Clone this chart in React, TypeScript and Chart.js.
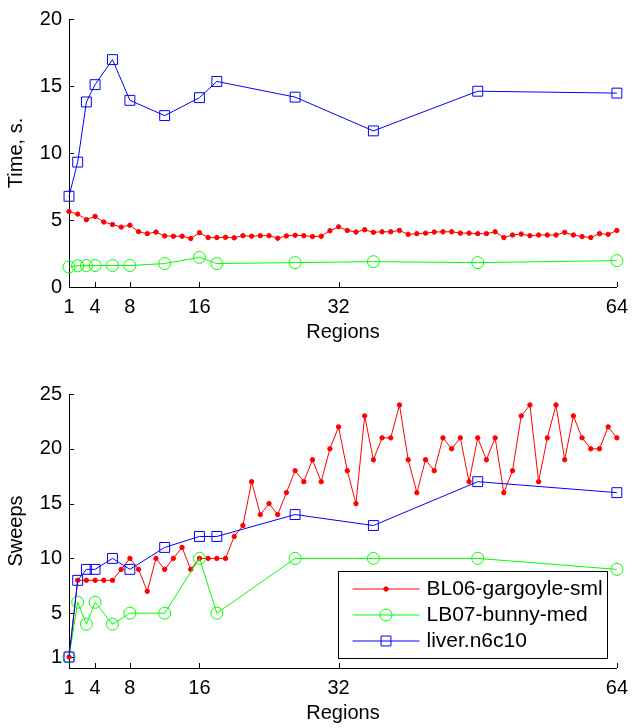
import React, { useEffect, useRef } from 'react';
import { Chart, registerables } from 'chart.js';

Chart.register(...registerables);

const FONT = '"Liberation Sans", Arial, Helvetica, sans-serif';

// ---- data ----
const regionsAll = [
  1, 2, 3, 4, 5, 6, 7, 8, 9, 10, 11, 12, 13, 14, 15, 16,
  17, 18, 19, 20, 21, 22, 23, 24, 25, 26, 27, 28, 29, 30, 31, 32,
  33, 34, 35, 36, 37, 38, 39, 40, 41, 42, 43, 44, 45, 46, 47, 48,
  49, 50, 51, 52, 53, 54, 55, 56, 57, 58, 59, 60, 61, 62, 63, 64,
];
const regionsSub = [1, 2, 3, 4, 6, 8, 12, 16, 18, 27, 36, 48, 64];
const xTickValues = [1, 4, 8, 16, 32, 64];
const timeYTicks = [0, 5, 10, 15, 20];
const sweepsYTicks = [1, 5, 10, 15, 20, 25];
const seriesLabels = ['BL06-gargoyle-sml', 'LB07-bunny-med', 'liver.n6c10'];

const gargoyleTime = [
  5.63, 5.44, 5.02, 5.27, 4.85, 4.66, 4.47, 4.61, 4.13, 3.98, 4.10, 3.81, 3.79, 3.79, 3.62, 4.05,
  3.69, 3.69, 3.71, 3.67, 3.83, 3.79, 3.83, 3.83, 3.64, 3.81, 3.86, 3.83, 3.76, 3.79, 4.20, 4.49,
  4.22, 4.10, 4.27, 4.08, 4.12, 4.12, 4.22, 3.93, 3.98, 4.02, 4.10, 4.12, 4.12, 4.02, 4.02, 3.98,
  3.98, 4.12, 3.69, 3.88, 3.95, 3.83, 3.88, 3.88, 3.88, 4.08, 3.88, 3.76, 3.69, 3.98, 3.93, 4.22,
];
const bunnyTime = [1.50, 1.58, 1.60, 1.60, 1.60, 1.60, 1.75, 2.21, 1.75, 1.82, 1.89, 1.82, 1.97];
const liverTime = [6.77, 9.32, 13.81, 15.10, 16.97, 13.93, 12.79, 14.13, 15.34, 14.17, 11.65, 14.61, 14.47];

const gargoyleSweeps = [
  1, 8, 8, 8, 8, 8, 9, 10, 9, 7, 10, 9, 10, 11, 9, 10,
  10, 10, 10, 12, 13, 17, 14, 15, 14, 16, 18, 17, 19, 17, 20, 22,
  18, 15, 23, 19, 21, 21, 24, 19, 16, 19, 18, 21, 20, 21, 17, 21,
  19, 21, 16, 18, 23, 24, 17, 21, 24, 19, 23, 21, 20, 20, 22, 21,
];
const bunnySweeps = [1, 6, 4, 6, 4, 5, 5, 10, 5, 10, 10, 10, 9];
const liverSweeps = [1, 8, 9, 9, 10, 9, 11, 12, 12, 14, 13, 17, 16];

const RED = '#ff0000';
const GREEN = '#00ff00';
const BLUE = '#0000ff';

// ---- plugins ----
const inwardTicks = {
  id: 'inwardTicks',
  beforeDatasetsDraw(chart: any) {
    const ctx = chart.ctx;
    const xs = chart.scales.x;
    const ys = chart.scales.y;
    const a = chart.chartArea;
    const len = 5;
    ctx.save();
    ctx.strokeStyle = '#000';
    ctx.lineWidth = 1;
    ctx.beginPath();
    xs.ticks.forEach((t: any) => {
      const px = Math.round(xs.getPixelForValue(t.value)) + 0.5;
      ctx.moveTo(px, a.bottom);
      ctx.lineTo(px, a.bottom - len);
    });
    ys.ticks.forEach((t: any) => {
      const py = Math.round(ys.getPixelForValue(t.value)) + 0.5;
      ctx.moveTo(a.left, py);
      ctx.lineTo(a.left + len, py);
    });
    ctx.stroke();
    ctx.restore();
  },
};

function makeBoxLegend(show: boolean) {
  return {
    id: 'boxLegend',
    afterDraw(chart: any) {
      if (!show) return;
      const ctx = chart.ctx;
      const a = chart.chartArea;
      const ds = chart.data.datasets;
      ctx.save();
      ctx.font = `21px ${FONT}`;
      const textW = Math.max(...ds.map((d: any) => ctx.measureText(d.label).width));
      const padL = 14, lineLen = 67, gap = 7, padR = 5, rowH = 26, padV = 17.5;
      const w = Math.round(padL + lineLen + gap + textW + padR);
      const h = Math.round(padV * 2 + rowH * (ds.length - 1));
      const right = Math.round(a.right - 10) + 0.5;
      const bottom = Math.round(a.bottom - 10) + 0.5;
      const left = right - w;
      const top = bottom - h;
      ctx.fillStyle = '#fff';
      ctx.fillRect(left, top, w, h);
      ctx.strokeStyle = '#000';
      ctx.lineWidth = 1;
      ctx.strokeRect(left, top, w, h);
      ds.forEach((d: any, i: number) => {
        const cy = Math.round(top + padV + i * rowH);
        const x0 = left + padL;
        const x1 = x0 + lineLen;
        ctx.strokeStyle = d.borderColor;
        ctx.lineWidth = d.borderWidth;
        ctx.beginPath();
        ctx.moveTo(x0, cy);
        ctx.lineTo(x1, cy);
        ctx.stroke();
        const cx = (x0 + x1) / 2;
        const r = d.pointRadius;
        ctx.beginPath();
        if (d.pointStyle === 'rect') {
          const s = r * Math.SQRT1_2;
          ctx.rect(cx - s, cy - s, 2 * s, 2 * s);
        } else {
          ctx.arc(cx, cy, r, 0, Math.PI * 2);
        }
        if (d.pointBackgroundColor && d.pointBackgroundColor !== 'transparent') {
          ctx.fillStyle = d.pointBackgroundColor;
          ctx.fill();
        }
        ctx.strokeStyle = d.pointBorderColor;
        ctx.lineWidth = 1;
        ctx.stroke();
        ctx.fillStyle = '#000';
        ctx.textBaseline = 'middle';
        ctx.textAlign = 'left';
        ctx.fillText(d.label, x1 + gap, cy);
      });
      ctx.restore();
    },
  };
}

interface PanelOpts {
  gargoyle: number[];
  bunny: number[];
  liver: number[];
  yTicks: number[];
  yMin: number;
  yMax: number;
  yTitle: string;
  padTop: number;
  xAxisHeight: number;
  xTitlePadBottom: number;
  legend: boolean;
}

function makeConfig(o: PanelOpts): any {
  const tickFont = { family: FONT, size: 20 };
  return {
    type: 'line',
    data: {
      datasets: [
        {
          label: seriesLabels[0],
          data: regionsAll.map((x, i) => ({ x, y: o.gargoyle[i] })),
          borderColor: RED,
          borderWidth: 1,
          pointStyle: 'circle',
          pointRadius: 2.2,
          pointBackgroundColor: RED,
          pointBorderColor: RED,
          pointBorderWidth: 1,
          tension: 0,
          clip: false,
          order: 2,
        },
        {
          label: seriesLabels[1],
          data: regionsSub.map((x, i) => ({ x, y: o.bunny[i] })),
          borderColor: GREEN,
          borderWidth: 1,
          pointStyle: 'circle',
          pointRadius: 6,
          pointBackgroundColor: 'transparent',
          pointBorderColor: GREEN,
          pointBorderWidth: 1,
          tension: 0,
          clip: false,
          order: 1,
        },
        {
          label: seriesLabels[2],
          data: regionsSub.map((x, i) => ({ x, y: o.liver[i] })),
          borderColor: BLUE,
          borderWidth: 1,
          pointStyle: 'rect',
          pointRadius: 7,
          pointBackgroundColor: 'transparent',
          pointBorderColor: BLUE,
          pointBorderWidth: 1,
          tension: 0,
          clip: false,
          order: 0,
        },
      ],
    },
    options: {
      animation: false,
      responsive: false,
      maintainAspectRatio: false,
      layout: { padding: { top: o.padTop, right: 14, left: 0, bottom: 0 } },
      plugins: {
        legend: { display: false },
        tooltip: { enabled: false },
      },
      scales: {
        x: {
          type: 'linear',
          min: 1,
          max: 64,
          afterBuildTicks: (s: any) => {
            s.ticks = xTickValues.map((v) => ({ value: v }));
          },
          afterFit: (s: any) => {
            s.height = o.xAxisHeight;
          },
          grid: { display: false, drawTicks: false },
          border: { display: true, color: '#000', width: 1 },
          ticks: {
            color: '#000',
            font: tickFont,
            padding: 8,
            maxRotation: 0,
            autoSkip: false,
            callback: (v: any) => String(v),
          },
          title: {
            display: true,
            text: 'Regions',
            color: '#000',
            font: tickFont,
            padding: { top: 0, bottom: o.xTitlePadBottom },
          },
        },
        y: {
          type: 'linear',
          min: o.yMin,
          max: o.yMax,
          afterBuildTicks: (s: any) => {
            s.ticks = o.yTicks.map((v) => ({ value: v }));
          },
          afterFit: (s: any) => {
            s.width = 69;
          },
          grid: { display: false, drawTicks: false },
          border: { display: true, color: '#000', width: 1 },
          ticks: {
            color: '#000',
            font: tickFont,
            padding: 7,
            autoSkip: false,
            callback: (v: any) => String(v),
          },
          title: {
            display: true,
            text: o.yTitle,
            color: '#000',
            font: tickFont,
            padding: { top: 4, bottom: 0 },
          },
        },
      },
    },
    plugins: [inwardTicks, makeBoxLegend(o.legend)],
  };
}

function Panel({ opts, top, height }: { opts: PanelOpts; top: number; height: number }) {
  const ref = useRef<HTMLCanvasElement>(null);
  useEffect(() => {
    const chart = new Chart(ref.current as HTMLCanvasElement, makeConfig(opts));
    return () => chart.destroy();
  }, []);
  return (
    <canvas
      ref={ref}
      width={636}
      height={height}
      style={{ position: 'absolute', left: 0, top, width: 636, height, display: 'block' }}
    />
  );
}

export default function App() {
  const timeOpts: PanelOpts = {
    gargoyle: gargoyleTime,
    bunny: bunnyTime,
    liver: liverTime,
    yTicks: timeYTicks,
    yMin: 0,
    yMax: 20,
    yTitle: 'Time, s.',
    padTop: 13,
    xAxisHeight: 77,
    xTitlePadBottom: 20,
    legend: false,
  };
  const sweepsOpts: PanelOpts = {
    gargoyle: gargoyleSweeps,
    bunny: bunnySweeps,
    liver: liverSweeps,
    yTicks: sweepsYTicks,
    yMin: 0,
    yMax: 25,
    yTitle: 'Sweeps',
    padTop: 30,
    xAxisHeight: 60,
    xTitlePadBottom: 3,
    legend: true,
  };
  return (
    <div style={{ position: 'absolute', left: 0, top: 0, width: 636, height: 728, background: '#fff' }}>
      <Panel opts={timeOpts} top={0} height={364} />
      <Panel opts={sweepsOpts} top={364} height={364} />
    </div>
  );
}
